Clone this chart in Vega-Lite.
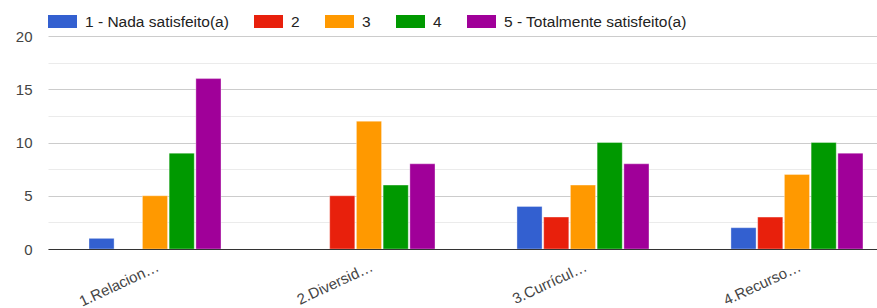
{
  "$schema": "https://vega.github.io/schema/vega-lite/v6.json",
  "autosize": {"type": "none"},
  "padding": {"left": 48, "top": 36, "right": 0, "bottom": 59},
  "width": 829,
  "height": 213,
  "background": "white",
  "config": {
    "view": {"stroke": null},
    "font": "Liberation Sans, Arial, sans-serif"
  },
  "data": {
    "values": [
      {"grupo": "1.Relacion…", "nivel": "1 - Nada satisfeito(a)", "n": 1},
      {"grupo": "1.Relacion…", "nivel": "2", "n": 0},
      {"grupo": "1.Relacion…", "nivel": "3", "n": 5},
      {"grupo": "1.Relacion…", "nivel": "4", "n": 9},
      {"grupo": "1.Relacion…", "nivel": "5 - Totalmente satisfeito(a)", "n": 16},
      {"grupo": "2.Diversid…", "nivel": "1 - Nada satisfeito(a)", "n": 0},
      {"grupo": "2.Diversid…", "nivel": "2", "n": 5},
      {"grupo": "2.Diversid…", "nivel": "3", "n": 12},
      {"grupo": "2.Diversid…", "nivel": "4", "n": 6},
      {"grupo": "2.Diversid…", "nivel": "5 - Totalmente satisfeito(a)", "n": 8},
      {"grupo": "3.Currícul…", "nivel": "1 - Nada satisfeito(a)", "n": 4},
      {"grupo": "3.Currícul…", "nivel": "2", "n": 3},
      {"grupo": "3.Currícul…", "nivel": "3", "n": 6},
      {"grupo": "3.Currícul…", "nivel": "4", "n": 10},
      {"grupo": "3.Currícul…", "nivel": "5 - Totalmente satisfeito(a)", "n": 8},
      {"grupo": "4.Recurso…", "nivel": "1 - Nada satisfeito(a)", "n": 2},
      {"grupo": "4.Recurso…", "nivel": "2", "n": 3},
      {"grupo": "4.Recurso…", "nivel": "3", "n": 7},
      {"grupo": "4.Recurso…", "nivel": "4", "n": 10},
      {"grupo": "4.Recurso…", "nivel": "5 - Totalmente satisfeito(a)", "n": 9}
    ]
  },
  "mark": {"type": "bar", "stroke": "white", "strokeOpacity": 0.35, "strokeWidth": 1},
  "encoding": {
    "x": {
      "field": "grupo",
      "type": "nominal",
      "sort": null,
      "scale": {"paddingInner": 0.383, "paddingOuter": 0.1285, "align": 0.745},
      "axis": {
        "title": null,
        "zindex": 1,
        "labelAngle": -25,
        "labelAlign": "right",
        "labelBaseline": "top",
        "labelFontSize": 15,
        "labelColor": "#444",
        "labelPadding": 10,
        "ticks": false,
        "tickSize": 0,
        "domain": true,
        "domainColor": "#333",
        "domainWidth": 1,
        "grid": false
      }
    },
    "xOffset": {
      "field": "nivel",
      "type": "nominal",
      "sort": null,
      "scale": {"paddingInner": 0.06, "paddingOuter": 0}
    },
    "y": {
      "field": "n",
      "type": "quantitative",
      "scale": {"domain": [0, 20], "nice": false},
      "axis": {
        "title": null,
        "values": [0, 2.5, 5, 7.5, 10, 12.5, 15, 17.5, 20],
        "labelExpr": "datum.value % 5 === 0 ? datum.label : ''",
        "labelFontSize": 15,
        "labelColor": "#444",
        "labelPadding": 16,
        "ticks": false,
        "tickSize": 0,
        "domain": false,
        "grid": true,
        "gridColor": {"condition": {"test": "datum.value % 5 !== 0", "value": "#ebebeb"}, "value": "#cccccc"},
        "gridWidth": 1
      }
    },
    "color": {
      "field": "nivel",
      "type": "nominal",
      "scale": {
        "domain": ["1 - Nada satisfeito(a)", "2", "3", "4", "5 - Totalmente satisfeito(a)"],
        "range": ["#3360d0", "#e8200c", "#ff9900", "#009900", "#a00099"]
      },
      "legend": {
        "title": null,
        "orient": "none",
        "legendX": 0,
        "legendY": -29,
        "direction": "horizontal",
        "padding": 0,
        "symbolType": "M-1,-0.45H1V0.45H-1Z",
        "symbolSize": 841,
        "symbolStrokeWidth": 0,
        "symbolOpacity": 1,
        "labelFontSize": 15.5,
        "labelColor": "#222",
        "labelOffset": 8,
        "columnPadding": 25,
        "labelLimit": 400
      }
    }
  }
}
